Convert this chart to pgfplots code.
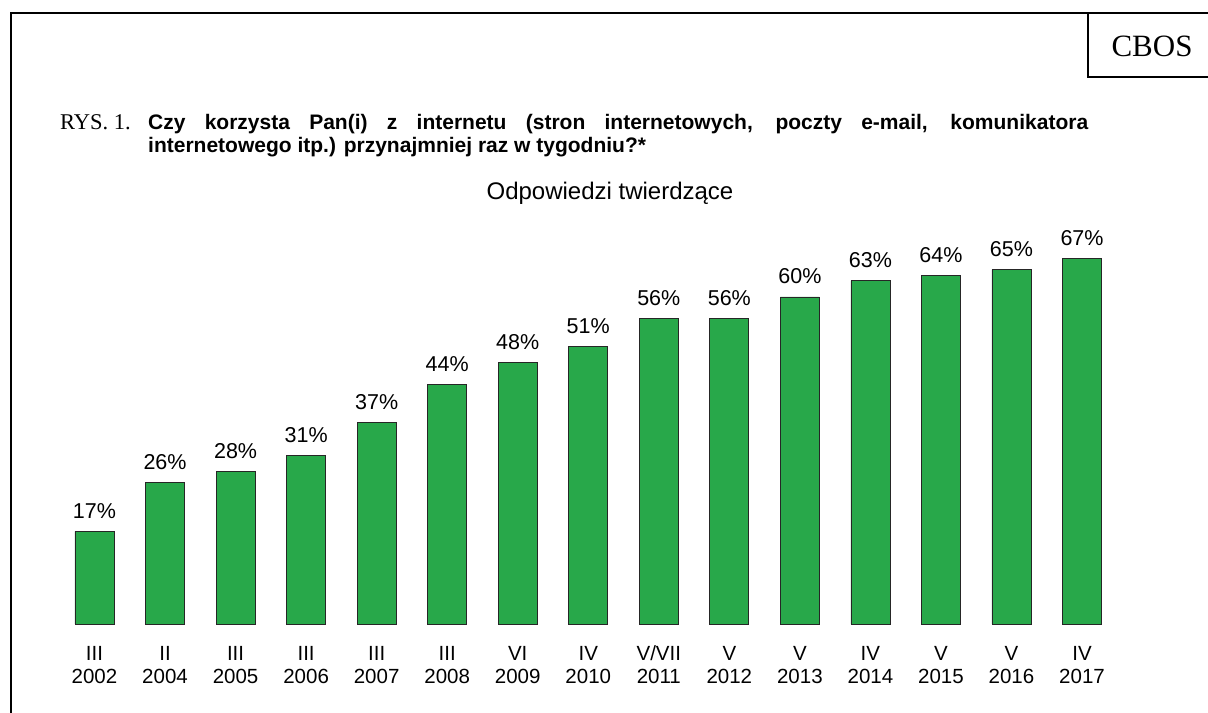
\documentclass[border=0pt]{standalone}
\usepackage{fontspec}
\setmainfont{Liberation Sans}
\newfontfamily\timesf{Liberation Serif}
\usepackage{pgfplots}
\pgfplotsset{compat=1.18}
\definecolor{barGreen}{RGB}{40,168,74}
\begin{document}
\begin{tikzpicture}[x=1bp,y=1bp]
\path[use as bounding box] (0,0) rectangle (1208,713);
% frame
\draw[line width=2bp] (11,0) -- (11,700) -- (1208,700);
\draw[line width=2bp] (1088,700) -- (1088,636.3) -- (1208,636.3);
\node[anchor=base,inner sep=0] at (1152,656) {\timesf\fontsize{31bp}{36bp}\selectfont CBOS};
% titles
\node[anchor=base west,inner sep=0] at (60,583) {\timesf\fontsize{22.5bp}{26bp}\selectfont RYS. 1.};
\node[anchor=base west,inner sep=0] at (148,583) {\fontsize{21bp}{23bp}\selectfont\bfseries\makebox[940bp][s]{Czy korzysta Pan(i) z internetu (stron internetowych, poczty e-mail, komunikatora}};
\node[anchor=base west,inner sep=0] at (148,560) {\fontsize{21bp}{23bp}\selectfont\bfseries internetowego itp.) przynajmniej raz w tygodniu?*};
\node[anchor=base,inner sep=0] at (610,513) {\fontsize{24bp}{28bp}\selectfont Odpowiedzi twierdzące};
\begin{axis}[
  at={(23.96bp,89bp)}, anchor=south west,
  scale only axis, width=1128.6bp, height=436bp,
  xmin=-1, xmax=15, ymin=0, ymax=80,
  axis line style={draw=none}, tick style={draw=none},
  ytick=\empty,
  xtick={0,...,14},
  xticklabels={{\strut III\\2002},{\strut II\\2004},{\strut III\\2005},{\strut III\\2006},{\strut III\\2007},{\strut III\\2008},{\strut VI\\2009},{\strut IV\\2010},{\strut V/VII\\2011},{\strut V\\2012},{\strut V\\2013},{\strut IV\\2014},{\strut V\\2015},{\strut V\\2016},{\strut IV\\2017}},
  xticklabel style={align=center,anchor=north,inner sep=0pt,yshift=-20bp,font=\fontsize{20.5bp}{23bp}\selectfont},
  /pgf/number format/assume math mode=true,
  clip=false,
]
\addplot[ybar, bar width=39bp, fill=barGreen, draw=black!85, line width=0.8bp,
  nodes near coords={\pgfmathprintnumber{\pgfplotspointmeta}\%},
  every node near coord/.append style={anchor=base,yshift=13bp,inner sep=0pt,font=\fontsize{21.5bp}{25bp}\selectfont}]
 coordinates {(0,17) (1,26) (2,28) (3,31) (4,37) (5,44) (6,48) (7,51) (8,56) (9,56) (10,60) (11,63) (12,64) (13,65) (14,67)};
\end{axis}
\end{tikzpicture}
\end{document}
